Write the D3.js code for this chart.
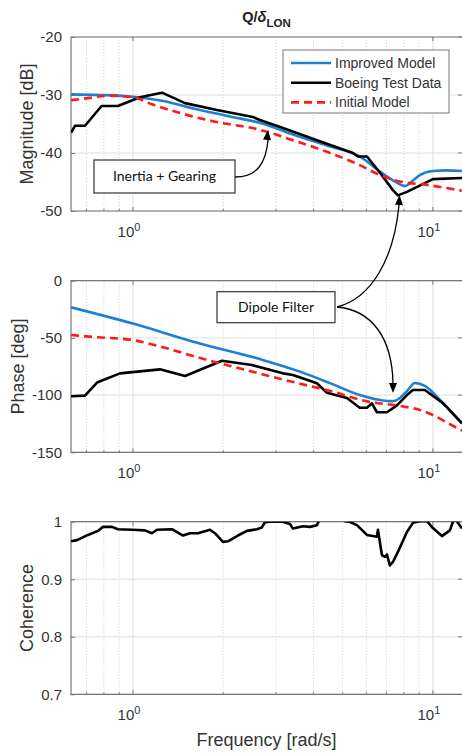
<!DOCTYPE html>
<html><head><meta charset="utf-8">
<script src="https://cdn.jsdelivr.net/npm/d3@7"></script>
<style>
html,body{margin:0;padding:0;background:#fff;}
svg{display:block;font-family:"Liberation Sans",Arial,sans-serif;}
</style></head>
<body><svg id="c" width="462" height="756"></svg>
<script>
// ---------- data ----------
const improvedMagFreq = [0.622,0.776,1.0,1.249,1.647,2.106,2.69,3.415,4.433,5.702,6.66,7.356,8.07,8.38,9.04,10,11.05,12.5];
const improvedMag     = [-29.9,-30.0,-30.3,-31.0,-32.5,-33.7,-34.9,-36.8,-38.7,-40.6,-43.2,-44.7,-45.7,-45.2,-43.8,-43.1,-43.0,-43.1];
const boeingMagFreq = [0.622,0.641,0.692,0.786,0.891,1.055,1.249,1.491,1.905,2.512,2.65,3.162,4.105,5.41,5.62,6.026,6.66,7.356,7.64,8.19,10,12.5];
const boeingMag     = [-36.5,-35.3,-35.3,-31.9,-31.9,-30.4,-29.6,-31.4,-32.6,-33.8,-34.3,-35.7,-37.8,-40.0,-40.6,-40.6,-43.4,-46.4,-47.3,-46.7,-44.5,-44.3];
const initialMagFreq = [0.622,0.719,0.825,1.0,1.157,1.457,1.876,2.65,3.415,4.433,5.702,6.66,7.762,9.55,12.5];
const initialMag     = [-30.9,-30.5,-30.1,-30.4,-31.6,-33.2,-34.6,-36.0,-37.8,-39.8,-42.1,-43.8,-44.9,-45.5,-46.5];

const improvedPhaseFreq = [0.622,1.0,1.647,2.69,3.603,4.536,5.702,7.027,7.356,7.762,8.19,8.71,9.40,10.80,12.5];
const improvedPhase     = [-23.3,-37.5,-54.5,-69.0,-79.5,-89.5,-99.9,-105.1,-105.3,-102.5,-96.5,-89.4,-92.0,-107.0,-125.0];
const boeingPhaseFreq = [0.622,0.692,0.759,0.905,1.23,1.491,1.98,2.49,3.162,3.415,4.105,4.433,5.168,5.702,6.026,6.26,6.506,7.027,7.586,8.19,8.577,9.40,10.80,12.5];
const boeingPhase     = [-101,-100.5,-89,-81,-77.5,-83.3,-70,-73.7,-81,-82.4,-89.7,-97.9,-102.5,-111,-111,-107.2,-115,-115,-109,-100,-95.5,-95.5,-107,-124.6];
const initialPhaseFreq = [0.622,0.764,0.992,1.278,1.647,2.106,2.754,3.603,4.642,6.026,7.762,9.04,10,11.13,12.5];
const initialPhase     = [-47.5,-49.5,-51.8,-58.6,-67,-74.5,-82.4,-90,-97,-105.5,-109.5,-113,-117.5,-124,-131];

const coherenceFreq = [0.622,0.651,0.708,0.764,0.794,0.851,0.891,0.992,1.096,1.157,1.202,1.349,1.468,1.549,1.647,1.806,1.876,1.995,2.073,2.239,2.399,2.59,2.69,2.754,2.862,3.162,3.337,3.415,3.687,3.89,4.105,4.2,4.536,4.898,5.09,5.275,5.58,6.026,6.506,6.556,6.761,6.918,7.027,7.185,7.356,7.762,8.19,8.577,9.04,9.55,10,10.72,11.39,11.66,11.93,12.5];
const coherence     = [0.966,0.968,0.977,0.984,0.991,0.991,0.987,0.986,0.985,0.980,0.986,0.987,0.976,0.980,0.980,0.986,0.980,0.965,0.966,0.976,0.984,0.987,0.990,0.999,1.000,1.000,0.996,0.988,0.992,0.991,0.994,1.005,1.015,1.012,1.001,1.000,0.994,0.977,0.974,0.986,0.942,0.939,0.943,0.924,0.930,0.955,0.982,0.998,1.001,1.001,0.989,0.975,0.985,1.000,1.003,0.988];

const magTicks = [-20,-30,-40,-50];
const phaseTicks = [0,-50,-100,-150];
const cohTicks = [1,0.9,0.8,0.7];
const cohTickLabels = ["1","0.9","0.8","0.7"];
const xMajor = [1,10];
const xMajorExp = ["0","1"];
const xMinor = [0.7,0.8,0.9,2,3,4,5,6,7,8,9];
const legendLabels = ["Improved Model","Boeing Test Data","Initial Model"];

// ---------- layout ----------
const svg = d3.select("#c");
const L = 71, R = 462;
const x = d3.scaleLog().domain([0.6215,12.5]).range([L,R]);
const colors = {imp:"#1f80d2", boe:"#000000", ini:"#ff1a1a"};
const tickColor = "#333", gridMajor = "#dedede", gridMinor = "#cfcfcf", frame = "#777";

const panels = [
  {id:"mag", top:37, bot:211, dom:[-50,-20], ticks:magTicks, labels:magTicks.map(String), ylabel:"Magnitude [dB]", ylx:33},
  {id:"ph", top:280.7, bot:452.3, dom:[-150,0], ticks:phaseTicks, labels:phaseTicks.map(String), ylabel:"Phase [deg]", ylx:24},
  {id:"coh", top:521.7, bot:694.3, dom:[0.7,1], ticks:cohTicks, labels:cohTickLabels, ylabel:"Coherence", ylx:33}
];

panels.forEach(p=>{
  p.y = d3.scaleLinear().domain(p.dom).range([p.bot,p.top]);
  const g = svg.append("g");
  p.g = g;
  svg.append("clipPath").attr("id","clip-"+p.id).append("rect")
    .attr("x",L).attr("y",p.top).attr("width",R-L+2).attr("height",p.bot-p.top);
  g.selectAll(".mn").data(xMinor).join("line")
    .attr("x1",d=>x(d)).attr("x2",d=>x(d)).attr("y1",p.top).attr("y2",p.bot)
    .attr("stroke",gridMinor).attr("stroke-width",1).attr("stroke-dasharray","1,2");
  g.selectAll(".mj").data(xMajor).join("line")
    .attr("x1",d=>x(d)).attr("x2",d=>x(d)).attr("y1",p.top).attr("y2",p.bot)
    .attr("stroke",gridMajor).attr("stroke-width",1);
  g.selectAll(".yg").data(p.ticks).join("line")
    .attr("x1",L).attr("x2",R).attr("y1",d=>p.y(d)).attr("y2",d=>p.y(d))
    .attr("stroke",gridMajor).attr("stroke-width",1);
  const yAxis = d3.axisLeft(p.y).tickValues(p.ticks).tickSize(-4).tickPadding(9)
    .tickFormat((d,i)=>p.labels[i]);
  const ya = g.append("g").attr("transform",`translate(${L},0)`).call(yAxis);
  ya.select(".domain").remove();
  ya.selectAll("line").attr("stroke",frame);
  ya.selectAll("text").attr("font-size",15).attr("fill",tickColor).attr("font-family","Liberation Sans, Arial, sans-serif");
  g.selectAll(".rt").data(p.ticks).join("line")
    .attr("x1",R-4).attr("x2",R).attr("y1",d=>p.y(d)).attr("y2",d=>p.y(d)).attr("stroke",frame);
  g.selectAll(".xtb").data(xMajor).join("line")
    .attr("x1",d=>x(d)).attr("x2",d=>x(d)).attr("y1",p.bot).attr("y2",p.bot-4).attr("stroke",frame);
  g.selectAll(".xtt").data(xMajor).join("line")
    .attr("x1",d=>x(d)).attr("x2",d=>x(d)).attr("y1",p.top).attr("y2",p.top+4).attr("stroke",frame);
  g.selectAll(".xmb").data(xMinor).join("line")
    .attr("x1",d=>x(d)).attr("x2",d=>x(d)).attr("y1",p.bot).attr("y2",p.bot-2).attr("stroke",frame);
  const xl = g.selectAll(".xl").data(xMajor).join("text")
    .attr("x",d=>x(d)-4).attr("y",p.bot+26).attr("text-anchor","middle")
    .attr("font-size",15).attr("fill",tickColor);
  xl.append("tspan").text("10");
  xl.append("tspan").attr("font-size",11).attr("dy",-6).text((d,i)=>xMajorExp[i]);
  g.append("path").attr("d",`M${R+1},${p.top}H${L}V${p.bot}H${R+1}`)
    .attr("fill","none").attr("stroke",frame).attr("stroke-width",1.2);
  svg.append("text").attr("transform",`translate(${p.ylx},${(p.top+p.bot)/2}) rotate(-90)`)
    .attr("text-anchor","middle").attr("font-size",18).attr("fill",tickColor).text(p.ylabel);
});

function drawLine(p, fx, fy, color, dash, curve){
  const data = fx.map((f,i)=>[f,fy[i]]);
  p.g.append("path").datum(data)
    .attr("clip-path",`url(#clip-${p.id})`)
    .attr("d", d3.line().x(d=>x(d[0])).y(d=>p.y(d[1])).curve(curve))
    .attr("fill","none").attr("stroke",color).attr("stroke-width",2.6)
    .attr("stroke-linejoin","round")
    .attr("stroke-dasharray",dash||null);
}
const [pm,pp,pc] = panels;
drawLine(pm, improvedMagFreq, improvedMag, colors.imp, null, d3.curveMonotoneX);
drawLine(pm, boeingMagFreq, boeingMag, colors.boe, null, d3.curveLinear);
drawLine(pm, initialMagFreq, initialMag, colors.ini, "8,5", d3.curveMonotoneX);
drawLine(pp, improvedPhaseFreq, improvedPhase, colors.imp, null, d3.curveMonotoneX);
drawLine(pp, boeingPhaseFreq, boeingPhase, colors.boe, null, d3.curveLinear);
drawLine(pp, initialPhaseFreq, initialPhase, colors.ini, "8,5", d3.curveMonotoneX);
drawLine(pc, coherenceFreq, coherence, colors.boe, null, d3.curveLinear);

// legend
const lg = svg.append("g");
lg.append("rect").attr("x",283).attr("y",50).attr("width",166).attr("height",63)
  .attr("fill","#fff").attr("stroke",frame).attr("stroke-width",1);
const legCols = [colors.imp, colors.boe, colors.ini];
const legDash = [null,null,"8,5"];
legendLabels.forEach((t,i)=>{
  const yy = 63 + i*19.7;
  lg.append("line").attr("x1",291).attr("x2",331).attr("y1",yy).attr("y2",yy)
    .attr("stroke",legCols[i]).attr("stroke-width",2.6).attr("stroke-dasharray",legDash[i]);
  lg.append("text").attr("x",335).attr("y",yy).attr("dy","0.35em").attr("font-size",14)
    .attr("fill",tickColor).text(t);
});

// title
const tt = svg.append("text").attr("x",266.5).attr("y",22).attr("text-anchor","middle")
  .attr("font-size",14.5).attr("font-weight","bold").attr("fill","#222");
tt.append("tspan").text("Q/");
tt.append("tspan").attr("font-style","italic").text("δ");
tt.append("tspan").attr("font-size",11.5).attr("dy",5).text("LON");

// x label
svg.append("text").attr("x",266.5).attr("y",746).attr("text-anchor","middle")
  .attr("font-size",18).attr("fill",tickColor).text("Frequency [rad/s]");

// annotations
const an = svg.append("g");
function arrowHead(tipX,tipY,dx,dy){
  const len=10, w=4;
  const n=Math.hypot(dx,dy); const ux=dx/n, uy=dy/n;
  const bx=tipX-ux*len, by=tipY-uy*len;
  an.append("path").attr("d",`M${tipX},${tipY}L${bx-uy*w},${by+ux*w}L${bx+uy*w},${by-ux*w}Z`).attr("fill","#000");
}
an.append("path").attr("d","M235,177 C258,177 266,162 268,140").attr("fill","none").attr("stroke","#000").attr("stroke-width",1.3);
arrowHead(268,130,0.1,-1);
an.append("path").attr("d","M337,307 C372,298 394,258 399,205").attr("fill","none").attr("stroke","#000").attr("stroke-width",1.3);
arrowHead(399.5,195,0.05,-1);
an.append("path").attr("d","M337,307 C372,310 392,338 393,383").attr("fill","none").attr("stroke","#000").attr("stroke-width",1.3);
arrowHead(393,393,0,1);

an.append("rect").attr("x",94).attr("y",160).attr("width",141).attr("height",33)
  .attr("fill","#fff").attr("stroke","#333").attr("stroke-width",1.2);
an.append("text").attr("x",164.5).attr("y",176.5).attr("dy","0.35em").attr("text-anchor","middle")
  .attr("font-family","Lato, 'Open Sans', sans-serif").attr("font-size",14).attr("fill","#111").text("Inertia + Gearing");
an.append("rect").attr("x",217).attr("y",291.7).attr("width",118).attr("height",31)
  .attr("fill","#fff").attr("stroke","#333").attr("stroke-width",1.2);
an.append("text").attr("x",276).attr("y",307.2).attr("dy","0.35em").attr("text-anchor","middle")
  .attr("font-family","Lato, 'Open Sans', sans-serif").attr("font-size",14).attr("fill","#111").text("Dipole Filter");
</script></body></html>
